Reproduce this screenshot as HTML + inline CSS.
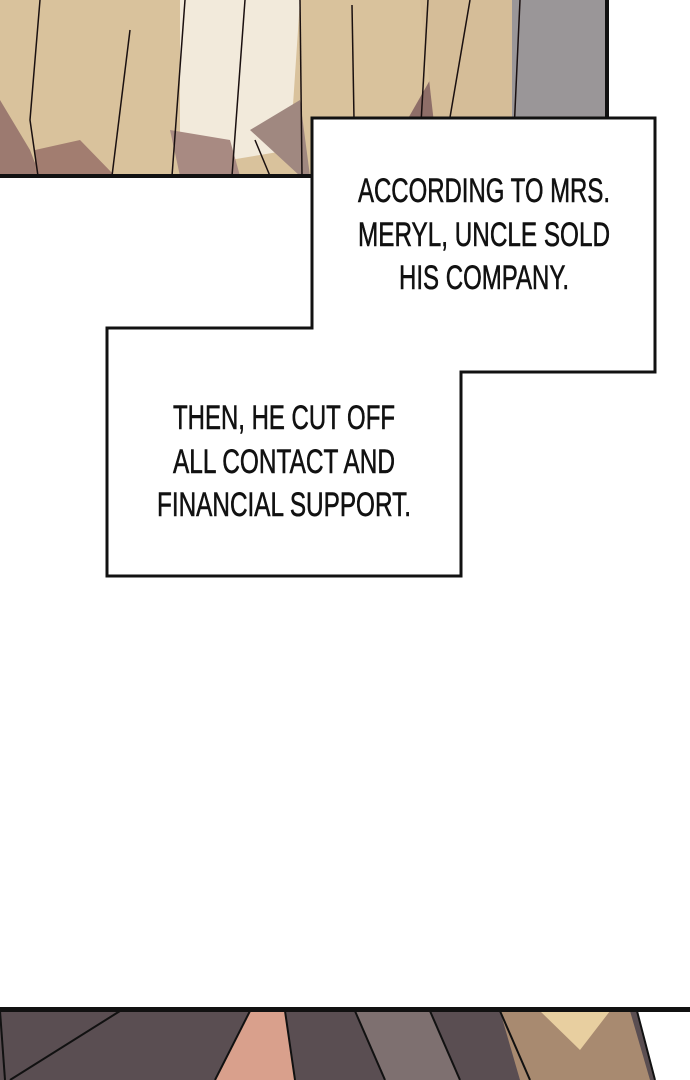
<!DOCTYPE html>
<html><head><style>body{margin:0;background:#fff}svg{display:block}</style></head>
<body>
<svg width="690" height="1080" viewBox="0 0 690 1080" xmlns="http://www.w3.org/2000/svg">
<rect width="690" height="1080" fill="#fff"/>
<!-- top panel -->
<rect x="0" y="0" width="608" height="176" fill="#d9c29c"/>
<polygon points="0,100 30,150 40,176 0,176" fill="#9c7a70"/>
<polygon points="35,150 80,140 115,176 35,176" fill="#a27d70"/>
<polygon points="180,0 300,0 290,150 230,160 180,176" fill="#f2eadb"/>
<polygon points="170,130 180,176 240,176 230,140" fill="#a88a82"/>
<polygon points="250,130 300,176 310,176 300,100" fill="#a08880"/>
<polygon points="390,150 430,80 440,176 390,176" fill="#8e6e68"/>
<polygon points="420,0 512,0 512,176 440,176" fill="#d5bd98"/>
<rect x="512" y="0" width="96" height="176" fill="#9a9698"/>
<g stroke="#1a1010" stroke-width="1.5" fill="none">
<path d="M38,176 L30,120 L40,0"/><path d="M112,176 L130,30"/><path d="M172,176 L185,0"/>
<path d="M232,176 L245,0"/><path d="M270,176 L255,140"/><path d="M302,176 L300,0"/>
<path d="M355,176 L352,5"/><path d="M418,176 L428,0"/><path d="M440,176 L470,0"/><path d="M512,176 L520,0"/>
</g>
<rect x="0" y="174" width="312" height="4" fill="#111"/>
<rect x="605" y="0" width="4" height="118" fill="#111"/>
<!-- boxes -->
<path d="M312,118 H655 V372 H461 V576 H107 V328 H312 Z" fill="#fff" stroke="#111" stroke-width="3"/>
<g font-family="Liberation Sans, sans-serif" font-size="34" fill="#111" stroke="#111" stroke-width="0.6" text-anchor="middle">
<text x="484" y="202" textLength="252" lengthAdjust="spacingAndGlyphs">ACCORDING TO MRS.</text>
<text x="484" y="246" textLength="252" lengthAdjust="spacingAndGlyphs">MERYL, UNCLE SOLD</text>
<text x="484" y="289" textLength="170" lengthAdjust="spacingAndGlyphs">HIS COMPANY.</text>
<text x="284" y="429" textLength="222" lengthAdjust="spacingAndGlyphs">THEN, HE CUT OFF</text>
<text x="284" y="473" textLength="222" lengthAdjust="spacingAndGlyphs">ALL CONTACT AND</text>
<text x="284" y="516" textLength="254" lengthAdjust="spacingAndGlyphs">FINANCIAL SUPPORT.</text>
</g>
<!-- bottom panel -->
<polygon points="0,1011 637,1011 655,1080 0,1080" fill="#5a4e52"/>
<polygon points="215,1080 250,1011 285,1011 295,1080" fill="#d9a08c"/>
<polygon points="355,1011 430,1011 460,1080 385,1080" fill="#7e7070"/>
<polygon points="500,1011 630,1011 650,1080 520,1080" fill="#a88a70"/>
<polygon points="540,1011 610,1011 580,1050" fill="#e8cfa0"/>
<g stroke="#111" stroke-width="2" fill="none">
<path d="M0,1011 L5,1080"/><path d="M120,1011 L10,1080"/><path d="M250,1011 L215,1080"/>
<path d="M285,1011 L295,1080"/><path d="M355,1011 L385,1080"/><path d="M430,1011 L460,1080"/>
<path d="M500,1011 L530,1080"/><path d="M637,1011 L655,1080"/>
</g>
<rect x="0" y="1007" width="690" height="5" fill="#111"/>
</svg>
</body></html>
